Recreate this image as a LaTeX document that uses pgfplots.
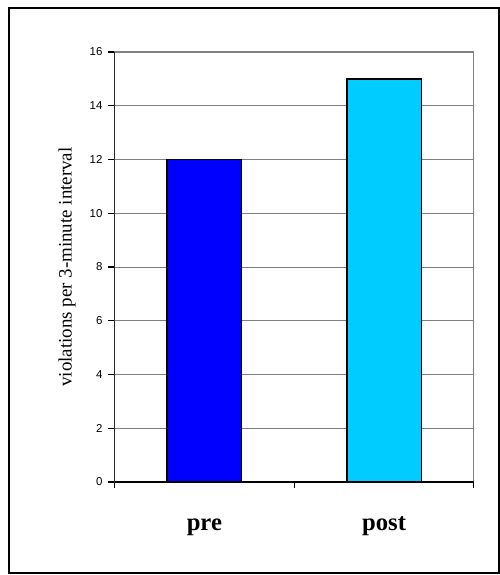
\documentclass[border=0pt]{standalone}
\usepackage{fontspec}
\setmainfont{Liberation Serif}
\newfontfamily\arial{Liberation Sans}
\usepackage{pgfplots}
\pgfplotsset{compat=1.18}
\definecolor{preblue}{RGB}{0,0,255}
\definecolor{postcyan}{RGB}{0,204,255}
\definecolor{gridgray}{RGB}{128,128,128}
\begin{document}
\begin{tikzpicture}[x=0.75pt,y=0.75pt]
% page and frame (1 px = 0.75pt, origin at lower left of plot area)
\path[use as bounding box] (-114.5,-93) rectangle (385.5,482);
\draw[line width=1.5pt] (-105.5,474) rectangle (384.5,-91);
\begin{axis}[
    at={(0,0)}, anchor=south west,
    scale only axis,
    width=269.6pt, height=322.5pt,
    xmin=0, xmax=2, ymin=0, ymax=16,
    xtick={0,1,2}, xticklabels={},
    ytick={0,2,...,16},
    xtick pos=bottom, ytick pos=left,
    tick align=outside,
    major tick length=4.5pt,
    tick style={black, line width=0.8pt},
    ymajorgrids,
    grid style={gridgray, line width=0.6pt},
    axis line style={gridgray, line width=0.8pt},
    /pgf/number format/assume math mode=true,
    yticklabel style={font=\arial\fontsize{8.6}{10}\selectfont, xshift=-1pt},
    extra x ticks={0.5,1.5},
    extra x tick labels={pre,post},
    extra x tick style={major tick length=0pt, grid=none,
        xticklabel style={font=\bfseries\fontsize{18.5}{20}\selectfont, anchor=base, yshift=-36.5pt}},
    ylabel={violations per 3-minute interval},
    ylabel style={font=\fontsize{14.2}{16}\selectfont, at={(axis description cs:0,0.5)}, anchor=center, yshift=35.6pt},
    ybar, bar width=55.9pt, bar shift=0pt,
]
\addplot[fill=preblue, draw=black, line width=1.2pt] coordinates {(0.5,12)};
\addplot[fill=postcyan, draw=black, line width=1.2pt] coordinates {(1.5,15)};
\draw[black, line width=0.9pt] (rel axis cs:0,1) -- (rel axis cs:0,0) -- (rel axis cs:1,0);
\end{axis}
\end{tikzpicture}
\end{document}
